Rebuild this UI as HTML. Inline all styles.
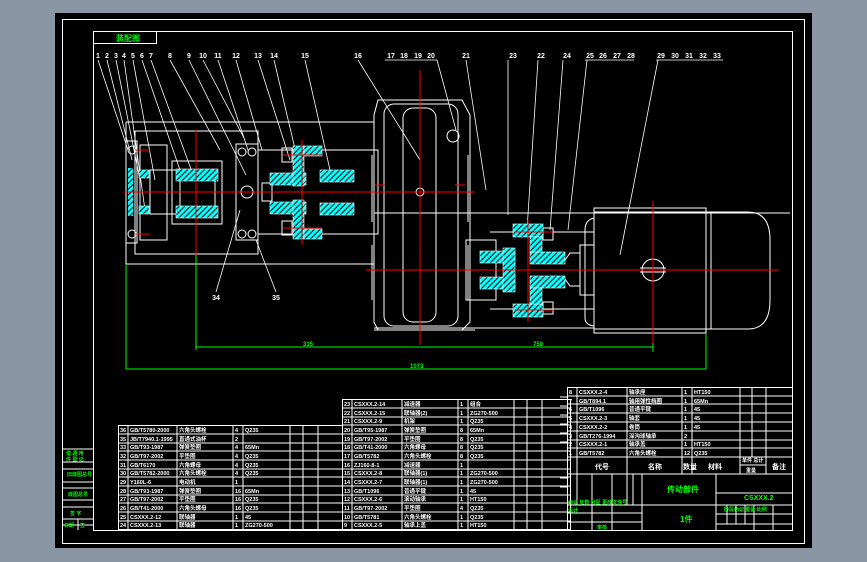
<!DOCTYPE html>
<html><head><meta charset="utf-8"><style>
html,body{margin:0;padding:0;background:#8a96a4;}
svg{display:block}
text{font-family:"Liberation Sans","Noto Sans CJK SC",sans-serif;}
</style></head><body>
<svg width="867" height="562" viewBox="0 0 867 562" xmlns="http://www.w3.org/2000/svg">
<defs>
<pattern id="h" width="4" height="4" patternUnits="userSpaceOnUse" patternTransform="rotate(45)">
<rect width="4" height="4" fill="#00ffff"/><rect width="1" height="4" fill="#000"/>
</pattern>
</defs>
<rect x="0" y="0" width="867" height="562" fill="#8a96a4"/>
<rect x="55" y="13" width="757" height="535" fill="#000"/>
<g fill="none" stroke="#fff" stroke-width="1">
<rect x="62.5" y="19.5" width="742" height="524"/>
<rect x="93.5" y="31.5" width="699" height="499"/>
<rect x="93.5" y="31.5" width="63" height="12"/>
</g>
<text x="116" y="41" font-size="8" fill="#00ff00" font-weight="bold">装配图</text>

<!-- part numbers -->
<g fill="#fff" font-size="7" font-weight="bold" text-anchor="middle">
<text x="98" y="58">1</text><text x="107" y="58">2</text><text x="116" y="58">3</text><text x="124" y="58">4</text><text x="133" y="58">5</text><text x="142" y="58">6</text><text x="151" y="58">7</text><text x="170" y="58">8</text><text x="189" y="58">9</text><text x="203" y="58">10</text><text x="218" y="58">11</text><text x="236" y="58">12</text><text x="258" y="58">13</text><text x="274" y="58">14</text><text x="305" y="58">15</text><text x="358" y="58">16</text><text x="391" y="58">17</text><text x="404" y="58">18</text><text x="418" y="58">19</text><text x="431" y="58">20</text><text x="466" y="58">21</text><text x="513" y="58">23</text><text x="541" y="58">22</text><text x="567" y="58">24</text><text x="590" y="58">25</text><text x="603" y="58">26</text><text x="617" y="58">27</text><text x="631" y="58">28</text><text x="661" y="58">29</text><text x="675" y="58">30</text><text x="689" y="58">31</text><text x="703" y="58">32</text><text x="717" y="58">33</text>
<text x="216" y="300">34</text><text x="276" y="300">35</text>
</g>
<g stroke="#fff" stroke-width="0.8" fill="none">
<path d="M385 60 L437 60 M656 60 L723 60 M585 60 L634 60"/>
<path d="M98 60 L128 150 M107 60 L132 160 M116 60 L140 180 M124 60 L145 210 M133 60 L155 180 M142 60 L180 170 M151 60 L195 180 M170 60 L220 150 M189 60 L246 175 M203 60 L245 140 M218 60 L248 150 M236 60 L262 150 M258 60 L290 160 M274 60 L300 170 M305 60 L330 170 M358 60 L420 160 M437 60 L456 130 M466 60 L486 190 M508 60 L508 215 M538 60 L527 230 M563 60 L550 230 M587 60 L568 230 M658 60 L620 255"/>
<path d="M216 292 L240 210 M276 292 L256 240"/>
</g>

<!-- main drawing -->
<g stroke="#fff" stroke-width="1" fill="none">
<path d="M126 122 H374 M126 264 H374 M126 122 V264"/>
<rect x="135" y="131" width="123" height="123"/>
<rect x="126" y="141" width="11" height="102"/>
<rect x="140" y="145" width="27" height="95"/>
<rect x="150" y="170" width="30" height="44"/>
<rect x="172" y="161" width="50" height="63"/>
<rect x="180" y="174" width="35" height="38"/>
<rect x="236" y="144" width="22" height="96"/>
<circle cx="247" cy="192" r="6"/>
<circle cx="242" cy="152" r="4"/><circle cx="252" cy="152" r="4"/>
<circle cx="242" cy="234" r="4"/><circle cx="252" cy="234" r="4"/>
<circle cx="132" cy="150" r="4"/><circle cx="132" cy="234" r="4"/>
<rect x="258" y="150" width="120" height="84"/>
<rect x="262" y="183" width="10" height="18"/>
<path d="M374 213 H790 M374 328 H594 M490 232 H594 M490 309 H594"/>
<!-- gearbox -->
<path d="M378 100 H462 L470 115 V322 L462 330 H378 L374 322 V115 Z"/>
<rect x="384" y="104" width="74" height="222" rx="10"/>
<rect x="403" y="108" width="33" height="214" rx="10"/>
<circle cx="420" cy="192" r="4"/>
<circle cx="453" cy="136" r="6"/>
<path d="M372 155 V222 M468 155 V222 M372 245 V300 M468 245 V300"/>
<path d="M378 329 V328 M374 330 H475"/>
<!-- coupling 2 -->
<rect x="466" y="240" width="30" height="60"/>
<path d="M565 260 L570 253 H580 V286 H570 L565 279"/>
<rect x="580" y="245" width="14" height="50"/>
<path d="M594 212 V329 M594 218 Q585 220 585 230 V318 Q585 325 594 326"/>
<!-- motor -->
<rect x="594" y="208" width="112" height="125"/>
<path d="M594 212 H748 Q770 212 770 240 V300 Q770 329 748 329 H594 M711 212 V329"/>
<circle cx="653" cy="270" r="11"/>
<path d="M640 268 H666 M640 272 H666"/>
<!-- bolts -->
<rect x="282" y="148" width="10" height="14"/><rect x="282" y="221" width="10" height="14"/>
<rect x="543" y="228" width="10" height="12"/><rect x="543" y="302" width="10" height="12"/>
</g>
<!-- hatched parts -->
<g fill="url(#h)" stroke="#fff" stroke-width="0.6">
<rect x="176" y="169" width="42" height="12"/>
<rect x="176" y="206" width="42" height="12"/>
<rect x="139" y="170" width="10" height="8"/><rect x="139" y="206" width="10" height="8"/>
<rect x="270" y="173" width="36" height="12"/><rect x="270" y="202" width="36" height="12"/>
<rect x="293" y="146" width="11" height="40"/><rect x="293" y="200" width="11" height="39"/>
<rect x="320" y="170" width="34" height="12"/><rect x="320" y="203" width="34" height="12"/>
<rect x="304" y="146" width="18" height="10"/><rect x="304" y="229" width="18" height="10"/>
<rect x="480" y="251" width="35" height="12"/><rect x="480" y="277" width="35" height="12"/>
<rect x="503" y="248" width="12" height="44"/>
<rect x="513" y="224" width="30" height="13"/><rect x="513" y="304" width="30" height="13"/>
<rect x="530" y="252" width="35" height="12"/><rect x="530" y="276" width="35" height="12"/>
<rect x="530" y="237" width="12" height="15"/><rect x="530" y="288" width="12" height="16"/>
</g>
<rect x="128" y="168" width="5" height="48" fill="url(#h)"/>
<!-- red center lines -->
<g stroke="#ff0000" stroke-width="1">
<path d="M124 192 H475 M366 270 H779 M196 130 V255 M420 70 V345 M653 201 V343 M302 140 V245 M528 220 V322"/>
<path d="M283 155 H322 M283 228 H322 M515 232 H553 M515 310 H553 M375 185 H385 M455 185 H465 M135 150 H150 M135 234 H150"/>
</g>
<!-- green dims -->
<g stroke="#00ff00" stroke-width="1" fill="none">
<path d="M126 264 V369 M196 255 V350 M196 347 H653 M653 343 V352 M126 369 H706 M706 333 V369"/>
</g>
<g fill="#00ff00" font-size="6" font-weight="bold">
<text x="303" y="346">315</text><text x="533" y="346">750</text><text x="410" y="368">1073</text>
</g>

<!-- left strip -->
<g stroke="#fff" stroke-width="1" fill="none">
<path d="M62 449 H93 M62 462 H93 M62 469 H93 M62 482 H93 M62 488 H93 M62 500 H93 M62 507 H93 M62 519 H93 M62 525 H93 M78 519 V530"/>
</g>
<g fill="#00ff00" font-size="5" font-weight="bold">
<text x="66" y="455">借 通 用</text><text x="66" y="461">件 登 记</text><text x="67" y="476">旧底图总号</text><text x="68" y="496">底图总号</text><text x="70" y="515">签 字</text><text x="64" y="527">日期</text><text x="80" y="527">签</text>
</g>

<!-- tables -->
<g stroke="#fff" stroke-width="1" fill="none">
<rect x="118.5" y="425.5" width="224" height="104"/>
<path d="M128 425 V530 M177 425 V530 M233 425 V530 M243 425 V530 M290 425 V530 M303 425 V530 M318 425 V530"/>
<path d="M118 434 H342 M118 443 H342 M118 451 H342 M118 460 H342 M118 469 H342 M118 477 H342 M118 486 H342 M118 495 H342 M118 503 H342 M118 512 H342 M118 521 H342"/>
<rect x="342.5" y="399.5" width="228" height="130"/>
<path d="M352 399 V530 M402 399 V530 M458 399 V530 M468 399 V530 M514 399 V530 M527 399 V530 M542 399 V530"/>
<path d="M342 408 H570 M342 417 H570 M342 425 H570 M342 434 H570 M342 443 H570 M342 451 H570 M342 460 H570 M342 469 H570 M342 477 H570 M342 486 H570 M342 495 H570 M342 503 H570 M342 512 H570 M342 521 H570"/>
<rect x="567.5" y="387.5" width="225" height="143"/>
<path d="M577 387 V474 M627 387 V474 M682 387 V474 M692 387 V474 M740 387 V474 M752 387 V457 M766 387 V474"/>
<path d="M567 396 H792 M567 404 H792 M567 413 H792 M567 422 H792 M567 431 H792 M567 440 H792 M567 448 H792 M567 457 H792 M567 474 H792 M740 465 H766"/>
<path d="M642 474 V530 M716 474 V530 M716 493 H792 M567 505 H792 M567 513 H642 M716 514 H792 M567 522 H642 M716 524 H792 M577 474 V505 M592 474 V530 M612 474 V530 M627 474 V505 M633 474 V505 M727 505 V524 M736 505 V524 M745 505 V524 M754 505 V530 M773 505 V530"/>
<path d="M560 397 H567 M560 406 H567 M560 415 H567 M560 424 H567 M560 433 H567 M560 442 H567 M560 451 H567 M560 460 H567 M560 469 H567 M560 478 H567 M560 487 H567"/>
</g>
<g fill="#fff" font-size="5.5" font-weight="bold">
<text x="120" y="432">36</text><text x="130" y="432">GB/T5780-2000</text><text x="179" y="432">六角头螺栓</text><text x="235" y="432">4</text><text x="245" y="432">Q235</text>
<text x="120" y="441">35</text><text x="130" y="441">JB/T7940.1-1995</text><text x="179" y="441">直通式油杯</text><text x="235" y="441">2</text>
<text x="120" y="449">33</text><text x="130" y="449">GB/T93-1987</text><text x="179" y="449">弹簧垫圈</text><text x="235" y="449">4</text><text x="245" y="449">65Mn</text>
<text x="120" y="458">32</text><text x="130" y="458">GB/T97-2002</text><text x="179" y="458">平垫圈</text><text x="235" y="458">4</text><text x="245" y="458">Q235</text>
<text x="120" y="467">31</text><text x="130" y="467">GB/T6170</text><text x="179" y="467">六角螺母</text><text x="235" y="467">4</text><text x="245" y="467">Q235</text>
<text x="120" y="475">30</text><text x="130" y="475">GB/T5782-2000</text><text x="179" y="475">六角头螺栓</text><text x="235" y="475">4</text><text x="245" y="475">Q235</text>
<text x="120" y="484">29</text><text x="130" y="484">Y160L-6</text><text x="179" y="484">电动机</text><text x="235" y="484">1</text>
<text x="120" y="493">28</text><text x="130" y="493">GB/T93-1987</text><text x="179" y="493">弹簧垫圈</text><text x="235" y="493">16</text><text x="245" y="493">65Mn</text>
<text x="120" y="501">27</text><text x="130" y="501">GB/T97-2002</text><text x="179" y="501">平垫圈</text><text x="235" y="501">16</text><text x="245" y="501">Q235</text>
<text x="120" y="510">26</text><text x="130" y="510">GB/T41-2000</text><text x="179" y="510">六角头螺母</text><text x="235" y="510">16</text><text x="245" y="510">Q235</text>
<text x="120" y="519">25</text><text x="130" y="519">CSXXX.2-12</text><text x="179" y="519">联轴器</text><text x="235" y="519">1</text><text x="245" y="519">45</text>
<text x="120" y="527">24</text><text x="130" y="527">CSXXX.2-13</text><text x="179" y="527">联轴器</text><text x="235" y="527">1</text><text x="245" y="527">ZG270-500</text>
<text x="344" y="406">23</text><text x="354" y="406">CSXXX.2-14</text><text x="404" y="406">减速器</text><text x="460" y="406">1</text><text x="470" y="406">组合</text>
<text x="344" y="415">22</text><text x="354" y="415">CSXXX.2-15</text><text x="404" y="415">联轴器(2)</text><text x="460" y="415">1</text><text x="470" y="415">ZG270-500</text>
<text x="344" y="423">21</text><text x="354" y="423">CSXXX.2-9</text><text x="404" y="423">机架</text><text x="460" y="423">1</text><text x="470" y="423">Q235</text>
<text x="344" y="432">20</text><text x="354" y="432">GB/T95-1987</text><text x="404" y="432">弹簧垫圈</text><text x="460" y="432">8</text><text x="470" y="432">65Mn</text>
<text x="344" y="441">19</text><text x="354" y="441">GB/T97-2002</text><text x="404" y="441">平垫圈</text><text x="460" y="441">8</text><text x="470" y="441">Q235</text>
<text x="344" y="449">18</text><text x="354" y="449">GB/T41-2000</text><text x="404" y="449">六角螺母</text><text x="460" y="449">8</text><text x="470" y="449">Q235</text>
<text x="344" y="458">17</text><text x="354" y="458">GB/T5782</text><text x="404" y="458">六角头螺栓</text><text x="460" y="458">8</text><text x="470" y="458">Q235</text>
<text x="344" y="467">16</text><text x="354" y="467">ZJ160-8-1</text><text x="404" y="467">减速器</text><text x="460" y="467">1</text>
<text x="344" y="475">15</text><text x="354" y="475">CSXXX.2-8</text><text x="404" y="475">联轴器(1)</text><text x="460" y="475">1</text><text x="470" y="475">ZG270-500</text>
<text x="344" y="484">14</text><text x="354" y="484">CSXXX.2-7</text><text x="404" y="484">联轴器(1)</text><text x="460" y="484">1</text><text x="470" y="484">ZG270-500</text>
<text x="344" y="493">13</text><text x="354" y="493">GB/T1096</text><text x="404" y="493">普通平键</text><text x="460" y="493">1</text><text x="470" y="493">45</text>
<text x="344" y="501">12</text><text x="354" y="501">CSXXX.2-6</text><text x="404" y="501">滚动轴承</text><text x="460" y="501">1</text><text x="470" y="501">HT150</text>
<text x="344" y="510">11</text><text x="354" y="510">GB/T97-2002</text><text x="404" y="510">平垫圈</text><text x="460" y="510">4</text><text x="470" y="510">Q235</text>
<text x="344" y="519">10</text><text x="354" y="519">GB/T5781</text><text x="404" y="519">六角头螺栓</text><text x="460" y="519">1</text><text x="470" y="519">Q235</text>
<text x="344" y="527">9</text><text x="354" y="527">CSXXX.2-5</text><text x="404" y="527">轴承上盖</text><text x="460" y="527">1</text><text x="470" y="527">HT150</text>
<text x="569" y="394">8</text><text x="579" y="394">CSXXX.2-4</text><text x="629" y="394">轴承座</text><text x="684" y="394">1</text><text x="694" y="394">HT150</text>
<text x="569" y="403">7</text><text x="579" y="403">GB/T894.1</text><text x="629" y="403">轴用弹性挡圈</text><text x="684" y="403">1</text><text x="694" y="403">65Mn</text>
<text x="569" y="411">6</text><text x="579" y="411">GB/T1096</text><text x="629" y="411">普通平键</text><text x="684" y="411">1</text><text x="694" y="411">45</text>
<text x="569" y="420">5</text><text x="579" y="420">CSXXX.2-3</text><text x="629" y="420">轴套</text><text x="684" y="420">1</text><text x="694" y="420">45</text>
<text x="569" y="429">4</text><text x="579" y="429">CSXXX.2-2</text><text x="629" y="429">卷筒</text><text x="684" y="429">1</text><text x="694" y="429">45</text>
<text x="569" y="438">3</text><text x="579" y="438">GB/T276-1994</text><text x="629" y="438">深沟球轴承</text><text x="684" y="438">2</text>
<text x="569" y="446">2</text><text x="579" y="446">CSXXX.2-1</text><text x="629" y="446">轴承盖</text><text x="684" y="446">1</text><text x="694" y="446">HT150</text>
<text x="569" y="455">1</text><text x="579" y="455">GB/T5782</text><text x="629" y="455">六角头螺栓</text><text x="684" y="455">12</text><text x="694" y="455">Q235</text>
</g>
<g fill="#fff" font-size="7" font-weight="bold">
<text x="595" y="469">代号</text><text x="648" y="469">名称</text><text x="683" y="469">数量</text><text x="708" y="469">材料</text><text x="742" y="462" font-size="5">单件 总计</text><text x="746" y="472" font-size="5">重量</text><text x="772" y="469">备注</text>
</g>
<g fill="#00ff00" font-weight="bold">
<text x="667" y="492" font-size="8">传动部件</text>
<text x="680" y="522" font-size="8">1件</text>
<text x="744" y="500" font-size="7">CSXXX.2</text>
<text x="568" y="504" font-size="5">标记 处数 分区 更改文件号</text>
<text x="724" y="511" font-size="5">阶段标记 重量 比例</text>
<text x="568" y="512" font-size="5">设计</text>
<text x="597" y="529" font-size="5">审核</text>
</g>
</svg>
</body></html>
